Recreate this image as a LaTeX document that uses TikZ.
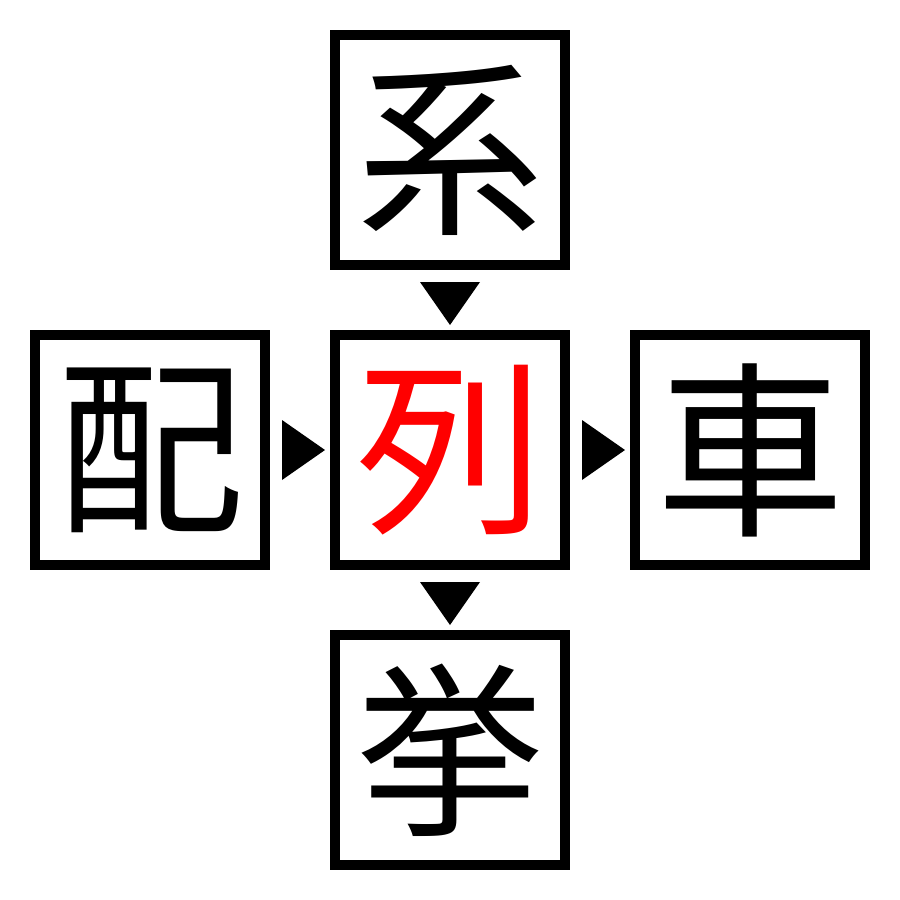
\documentclass[tikz,border=0pt]{standalone}
\usepackage{fontspec}
\newfontfamily\cjk{Noto Sans CJK JP}
\usepackage{tikz}
\usetikzlibrary{positioning}

\tikzset{
  kanjibox/.style={draw=black, line width=10pt, minimum size=230pt, inner sep=0pt,
    font=\cjk\fontsize{188}{188}\selectfont},
}

\begin{document}
\begin{tikzpicture}[x=1pt,y=1pt,yscale=-1]
\useasboundingbox (0,0) rectangle (900,900);

\node [kanjibox] (mid) at (450,450) {\textcolor{red}{列}};
\node [kanjibox, above=60pt of mid] (top) {系};
\node [kanjibox, left=60pt of mid] (lft) {配};
\node [kanjibox, right=60pt of mid] (rgt) {車};
\node [kanjibox, below=60pt of mid] (bot) {挙};

%arrows
\fill (420,282) -- (480,282) -- (450,325) -- cycle;
\fill (420,582) -- (480,582) -- (450,625) -- cycle;
\fill (282,420) -- (282,480) -- (325,450) -- cycle;
\fill (582,420) -- (582,480) -- (625,450) -- cycle;

\end{tikzpicture}
\end{document}
